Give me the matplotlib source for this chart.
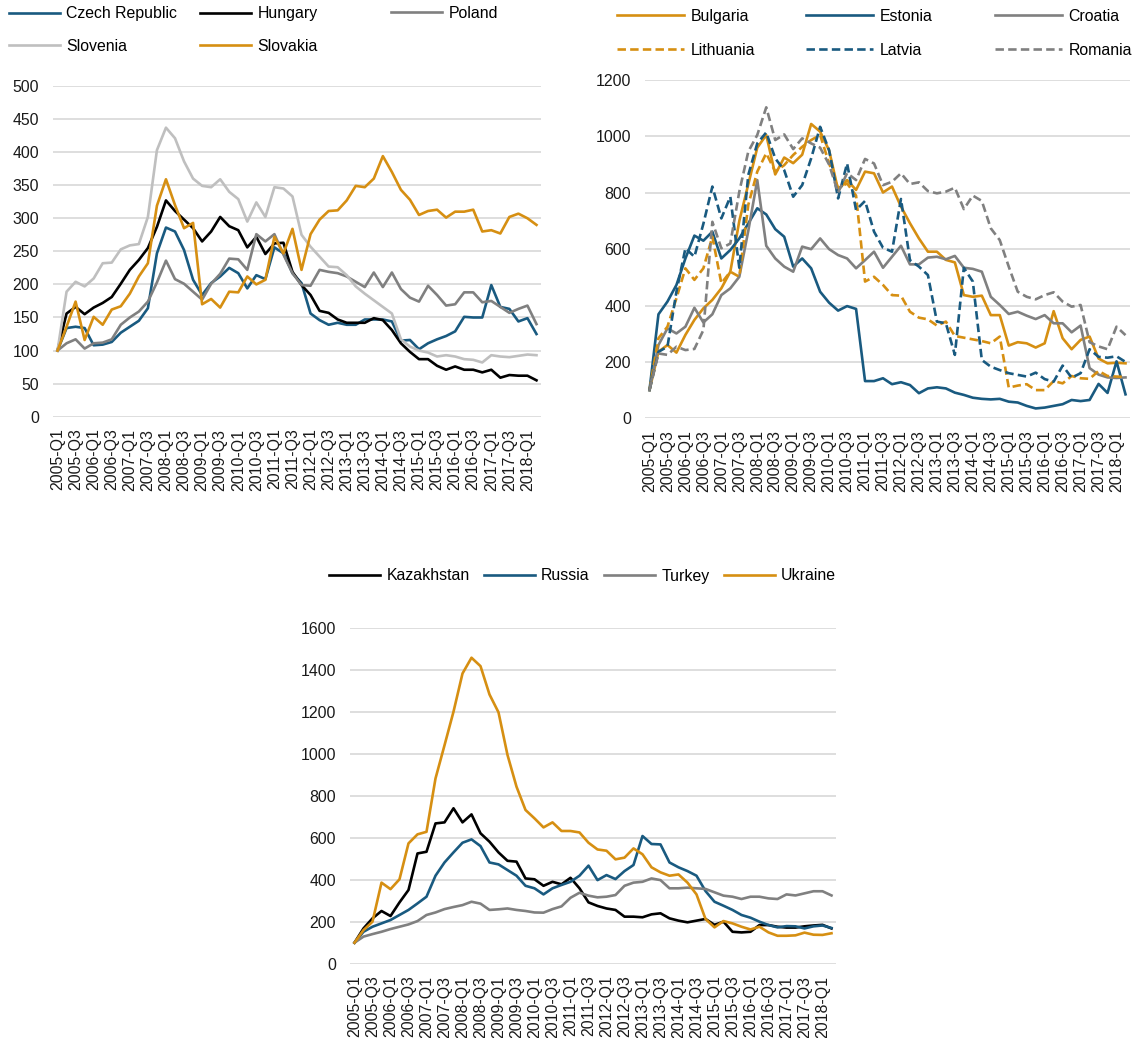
import matplotlib
matplotlib.use("Agg")
import matplotlib.pyplot as plt

# quarterly index values, 2005-Q1 = 100
quarters = [f"{y}-Q{q}" for y in range(2005, 2019) for q in range(1, 5)][:54]

czech = [100, 134, 136, 134, 108, 109, 113, 127, 136, 145,
         164, 247, 286, 280, 252, 207, 184, 202, 212, 225,
         217, 194, 214, 208, 256, 247, 217, 202, 156, 146,
         139, 142, 139, 139, 147, 147, 147, 144, 115, 116,
         102, 111, 117, 122, 129, 151, 150, 150, 199, 166,
         163, 144, 149, 125]
hungary = [100, 156, 166, 155, 165, 172, 181, 201, 222, 237,
           255, 287, 327, 311, 298, 285, 265, 280, 302, 288,
           282, 256, 272, 246, 262, 263, 219, 199, 184, 160,
           157, 147, 142, 142, 142, 149, 146, 131, 111, 98,
           87, 87, 77, 71, 76, 71, 71, 67, 71, 59,
           63, 62, 62, 55]
poland = [100, 111, 117, 103, 111, 112, 117, 139, 150, 159,
          174, 203, 236, 208, 201, 189, 177, 201, 216, 239,
          238, 222, 276, 265, 276, 245, 217, 199, 198, 222,
          219, 217, 212, 204, 196, 218, 196, 218, 193, 180,
          174, 198, 184, 168, 170, 188, 188, 173, 175, 166,
          157, 163, 168, 140]
slovenia = [100, 189, 204, 197, 209, 232, 233, 253, 259, 261,
            302, 403, 437, 421, 386, 360, 349, 347, 359, 340,
            329, 295, 324, 302, 347, 345, 333, 275, 257, 242,
            227, 226, 214, 197, 186, 176, 166, 156, 117, 106,
            100, 97, 91, 93, 91, 87, 86, 82, 93, 91,
            90, 92, 94, 93]
slovakia = [100, 136, 174, 116, 151, 139, 162, 167, 186, 212,
            232, 319, 359, 320, 285, 293, 170, 178, 165, 189,
            188, 212, 200, 207, 272, 247, 284, 222, 276, 298,
            311, 312, 327, 349, 347, 360, 394, 370, 343, 328,
            305, 311, 313, 301, 310, 310, 313, 280, 282, 277,
            302, 307, 300, 290]

bulgaria = [100, 236, 260, 233, 296, 349, 390, 420, 461, 520,
            700, 830, 960, 1005, 865, 925, 905, 935, 1044, 1017,
            950, 810, 845, 810, 875, 869, 801, 822, 751, 692,
            638, 591, 591, 562, 553, 437, 431, 435, 366, 366,
            258, 270, 266, 251, 266, 380, 284, 245, 278, 290,
            212, 195, 197, 195]
estonia = [100, 369, 414, 473, 567, 648, 630, 662, 567, 597,
           638, 691, 745, 723, 671, 644, 538, 567, 532, 449,
           410, 382, 398, 388, 132, 132, 142, 121, 128, 118,
           89, 106, 110, 106, 91, 83, 73, 69, 67, 69,
           59, 56, 44, 35, 38, 44, 50, 65, 61, 65,
           122, 90, 202, 85]
croatia = [100, 260, 319, 301, 325, 392, 340, 369, 437, 461,
           502, 665, 845, 612, 567, 538, 520, 609, 600, 638,
           600, 579, 567, 532, 561, 591, 534, 573, 612, 546,
           546, 570, 573, 564, 576, 534, 530, 520, 431, 402,
           370, 378, 364, 352, 366, 337, 337, 305, 329, 178,
           155, 145, 143, 145]
lithuania = [100, 284, 325, 426, 532, 491, 532, 644, 479, 520,
             502, 757, 875, 940, 875, 898, 934, 963, 987, 1005,
             904, 816, 833, 790, 485, 502, 473, 437, 435, 378,
             357, 351, 329, 343, 292, 286, 280, 274, 266, 290,
             109, 116, 121, 100, 100, 132, 124, 150, 142, 140,
             168, 150, 148, 147]
latvia = [100, 236, 254, 449, 603, 573, 690, 822, 709, 786,
          534, 863, 975, 1014, 922, 880, 786, 827, 922, 1034,
          951, 780, 904, 739, 771, 662, 605, 591, 778, 561,
          538, 508, 343, 337, 225, 534, 485, 207, 183, 171,
          160, 154, 148, 162, 139, 130, 187, 144, 160, 245,
          218, 215, 220, 200]
romania = [100, 230, 225, 254, 242, 246, 313, 697, 603, 620,
           804, 946, 1005, 1103, 987, 1007, 955, 993, 975, 960,
           900, 800, 870, 845, 920, 904, 827, 839, 869, 831,
           837, 806, 798, 804, 818, 742, 790, 771, 674, 632,
           538, 449, 431, 422, 437, 447, 414, 396, 402, 270,
           255, 245, 325, 295]

kazakhstan = [100, 168, 216, 251, 227, 292, 351, 525, 533, 668,
              673, 740, 673, 711, 621, 581, 530, 490, 486, 406,
              402, 371, 390, 378, 409, 359, 292, 275, 263, 256,
              224, 224, 221, 235, 240, 216, 205, 197, 205, 213,
              185, 200, 152, 149, 152, 184, 184, 176, 172, 172,
              178, 182, 185, 168]
russia = [100, 152, 176, 192, 208, 232, 256, 287, 319, 419,
          482, 530, 576, 592, 560, 482, 473, 446, 419, 371,
          359, 330, 359, 375, 390, 419, 467, 398, 422, 403,
          441, 470, 608, 570, 568, 482, 459, 441, 419, 346,
          295, 276, 256, 232, 219, 200, 184, 173, 179, 178,
          168, 178, 182, 170]
turkey = [100, 129, 141, 152, 165, 176, 187, 203, 232, 244,
          260, 270, 279, 295, 286, 256, 259, 263, 256, 251,
          244, 243, 260, 273, 314, 338, 324, 316, 319, 327,
          371, 386, 390, 406, 398, 359, 359, 362, 359, 356,
          340, 324, 319, 308, 319, 319, 311, 308, 330, 325,
          335, 345, 345, 325]
ukraine = [100, 160, 200, 386, 355, 402, 573, 616, 628, 882,
           1040, 1200, 1382, 1457, 1417, 1282, 1197, 994, 843, 732,
           692, 649, 673, 632, 632, 625, 576, 544, 538, 497,
           505, 549, 521, 459, 435, 419, 425, 386, 330, 213,
           173, 203, 192, 176, 163, 176, 149, 133, 133, 135,
           148, 138, 137, 145]

BLUE = "#195A80"
BLACK = "#000000"
GRAY = "#808080"
LGRAY = "#BFBFBF"
ORANGE = "#D68F12"
DASH = (0, (3.2, 1.6))

plt.rcParams["font.family"] = ["Liberation Sans", "DejaVu Sans"]
FS = 11.4
FS_PX = FS * 100 / 72
W, H = 1140, 1038

fig = plt.figure(figsize=(W / 100, H / 100), dpi=100)


def make_axes(left, right, top, bottom, ymax, ystep):
    ax = fig.add_axes([left / W, 1 - bottom / H, (right - left) / W, (bottom - top) / H])
    ax.set_xlim(-0.5, len(quarters) - 0.5)
    ax.set_ylim(0, ymax)
    ax.set_yticks(range(0, ymax + 1, ystep))
    ax.set_xticks(range(0, len(quarters), 2))
    ax.set_xticklabels(quarters[::2], rotation=90)
    ax.grid(axis="y", color="#D9D9D9", linewidth=1.25)
    ax.set_axisbelow(True)
    for s in ax.spines.values():
        s.set_visible(False)
    ax.tick_params(axis="y", length=0, pad=10, labelsize=FS, colors="#1a1a1a")
    ax.tick_params(axis="x", length=0, pad=8.5, labelsize=FS, colors="#1a1a1a")
    return ax


def col_legend(ax, handles, labels, x_px, y_px, hlen_px, rowgap):
    # one legend column, so the columns sit at even spacing like the original
    leg = ax.legend(handles, labels, loc="center left",
                    bbox_to_anchor=(x_px / W, 1 - y_px / H), bbox_transform=fig.transFigure,
                    frameon=False, borderpad=0, borderaxespad=0, fontsize=FS,
                    handlelength=hlen_px / FS_PX, handletextpad=6.5 / FS_PX,
                    labelspacing=rowgap, ncol=1)
    ax.add_artist(leg)
    ax.legend_ = None
    return leg


x = range(len(quarters))
LW = 1.9

# panel 1: central Europe
ax1 = make_axes(53, 541, 86, 416.7, 500, 50)
l_cz, = ax1.plot(x, czech, color=BLUE, lw=LW)
l_hu, = ax1.plot(x, hungary, color=BLACK, lw=LW)
l_pl, = ax1.plot(x, poland, color=GRAY, lw=LW)
l_si, = ax1.plot(x, slovenia, color=LGRAY, lw=LW)
l_sk, = ax1.plot(x, slovakia, color=ORANGE, lw=LW)
col_legend(ax1, [l_cz, l_si], ["Czech Republic", "Slovenia"], 9, 30, 51, 1.12)
col_legend(ax1, [l_hu, l_sk], ["Hungary", "Slovakia"], 200, 30, 51, 1.12)
col_legend(ax1, [l_pl], ["Poland"], 391, 13.3, 51, 1.12)

# panel 2: Baltics and south-east Europe
ax2 = make_axes(645, 1130, 80, 418.3, 1200, 200)
l_bg, = ax2.plot(x, bulgaria, color=ORANGE, lw=LW)
l_ee, = ax2.plot(x, estonia, color=BLUE, lw=LW)
l_hr, = ax2.plot(x, croatia, color=GRAY, lw=LW)
l_lt, = ax2.plot(x, lithuania, color=ORANGE, lw=LW, linestyle=DASH)
l_lv, = ax2.plot(x, latvia, color=BLUE, lw=LW, linestyle=DASH)
l_ro, = ax2.plot(x, romania, color=GRAY, lw=LW, linestyle=DASH)
col_legend(ax2, [l_bg, l_lt], ["Bulgaria", "Lithuania"], 617, 33.4, 67, 1.2)
col_legend(ax2, [l_ee, l_lv], ["Estonia", "Latvia"], 806, 33.4, 67, 1.2)
col_legend(ax2, [l_hr, l_ro], ["Croatia", "Romania"], 995, 33.4, 67, 1.2)

# panel 3: CIS and Turkey
ax3 = make_axes(350, 836, 627.7, 963.7, 1600, 200)
l_kz, = ax3.plot(x, kazakhstan, color=BLACK, lw=LW)
l_ru, = ax3.plot(x, russia, color=BLUE, lw=LW)
l_tr, = ax3.plot(x, turkey, color=GRAY, lw=LW)
l_ua, = ax3.plot(x, ukraine, color=ORANGE, lw=LW)
ax3.legend([l_kz, l_ru, l_tr, l_ua], ["Kazakhstan", "Russia", "Turkey", "Ukraine"],
           loc="center left", bbox_to_anchor=(329 / W, 1 - 576 / H),
           bbox_transform=fig.transFigure, frameon=False, borderpad=0, borderaxespad=0,
           fontsize=FS, ncol=4, handlelength=51 / FS_PX, handletextpad=6.5 / FS_PX,
           columnspacing=14 / FS_PX)

fig.savefig("out.png", dpi=100, facecolor="white")
